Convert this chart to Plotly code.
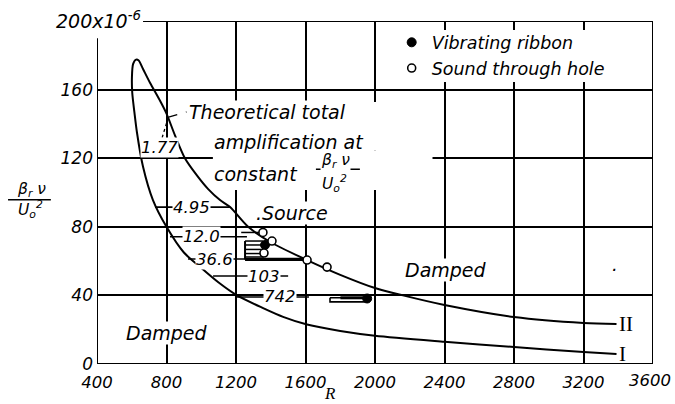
import plotly.graph_objects as go

# ---------------- data ----------------
# neutral-stability curve, branch I (lower) and branch II (upper), both from the nose
branch_I_R = [625, 608, 601, 603, 615, 630, 665, 722, 800, 900, 993, 1100, 1206, 1356, 1471, 1609, 1800, 2000, 2400, 2800, 3200, 3390]
branch_I_y = [177.5, 175, 167, 158, 147, 135, 115, 95.6, 80, 65, 56.6, 47.5, 40, 32.6, 27.5, 23, 19.3, 16.5, 13, 9.9, 7, 5.8]
branch_II_R = [625, 640, 665, 705, 760, 800, 850, 906, 975, 1040, 1108, 1166, 1270, 1400, 1609, 1800, 2000, 2161, 2400, 2800, 3200, 3390]
branch_II_y = [177.5, 177, 172, 164, 154, 146, 133, 120, 110, 102, 95.6, 91.5, 80, 71, 60.6, 52, 44.3, 40, 34.4, 27.4, 23.9, 23.3]

# lines of constant theoretical total amplification
amp_labels = ["1.77", "4.95", "12.0", "36.6", "103", "742"]
amp_y = [125, 91.5, 74.2, 61.2, 51.3, 39.1]
amp_R0 = [659, 734, 820, 924, 1068, 1206]
amp_R1 = [832, 1166, 1263, 1586, 1500, 1620]
amp_label_R = [760, 941, 1004, 1079, 1360, 1453]
amp_label_y = [126.5, 91.5, 74.2, 61.2, 51.3, 39.1]

# measured points
ribbon_R = [1367, 1955]
ribbon_y = [69.4, 38.2]
hole_R = [1355, 1407, 1361, 1609, 1724]
hole_y = [76.7, 71.7, 64.7, 60.6, 56.5]

# horizontal range bars of the measurements
bar_y = [76.7, 71.7, 69.4, 66.8, 64.4, 62.4]
bar_R0 = [1230, 1252, 1252, 1252, 1252, 1252]
bar_R1 = [1335, 1355, 1360, 1360, 1360, 1360]
thick_bar_y = [61.0]
thick_bar_R0 = [1252]
thick_bar_R1 = [1600]
ribbon_bar_R = [1741, 1955]
ribbon_bar_y = [38.6, 36.2]

x_ticks = [400, 800, 1200, 1600, 2000, 2400, 2800, 3200, 3600]
x_ticktext = ["400", "800", "1200", "1600", "2000", "2400", "2800", "3200", ""]
y_ticks = [0, 40, 80, 120, 160]

# ---------------- figure ----------------
FONT = "DejaVu Sans"
BLACK = "black"

fig = go.Figure()

# neutral curve (one continuous line through the nose)
curve_R = branch_I_R[::-1] + branch_II_R[1:]
curve_y = branch_I_y[::-1] + branch_II_y[1:]
fig.add_trace(go.Scatter(x=curve_R, y=curve_y, mode="lines", line=dict(color=BLACK, width=2, shape="spline", smoothing=0.8),
                         showlegend=False, hoverinfo="skip"))

# constant amplification lines
for r0, r1, yy in zip(amp_R0, amp_R1, amp_y):
    fig.add_trace(go.Scatter(x=[r0, r1], y=[yy, yy], mode="lines", line=dict(color=BLACK, width=1.6),
                             showlegend=False, hoverinfo="skip"))

# range bars
for r0, r1, yy in zip(bar_R0, bar_R1, bar_y):
    fig.add_trace(go.Scatter(x=[r0, r1], y=[yy, yy], mode="lines", line=dict(color=BLACK, width=1.5),
                             showlegend=False, hoverinfo="skip"))
fig.add_trace(go.Scatter(x=[bar_R0[1], bar_R0[1]], y=[thick_bar_y[0], bar_y[1]], mode="lines",
                         line=dict(color=BLACK, width=2), showlegend=False, hoverinfo="skip"))
for r0, r1, yy in zip(thick_bar_R0, thick_bar_R1, thick_bar_y):
    fig.add_trace(go.Scatter(x=[r0, r1], y=[yy, yy], mode="lines", line=dict(color=BLACK, width=3.2),
                             showlegend=False, hoverinfo="skip"))
# ribbon range bar (outlined)
fig.add_trace(go.Scatter(x=[ribbon_bar_R[0], ribbon_bar_R[1], ribbon_bar_R[1], ribbon_bar_R[0], ribbon_bar_R[0]],
                         y=[ribbon_bar_y[0], ribbon_bar_y[0], ribbon_bar_y[1], ribbon_bar_y[1], ribbon_bar_y[0]],
                         mode="lines", line=dict(color=BLACK, width=1.6), showlegend=False, hoverinfo="skip"))
fig.add_trace(go.Scatter(x=[ribbon_bar_R[0] + 60, ribbon_bar_R[1]], y=[ribbon_bar_y[0], ribbon_bar_y[0]],
                         mode="lines", line=dict(color=BLACK, width=3), showlegend=False, hoverinfo="skip"))

# measured points
fig.add_trace(go.Scatter(x=ribbon_R, y=ribbon_y, mode="markers", name="Vibrating ribbon",
                         marker=dict(symbol="circle", size=9, color=BLACK, line=dict(color=BLACK, width=1))))
fig.add_trace(go.Scatter(x=hole_R, y=hole_y, mode="markers", name="Sound through hole",
                         marker=dict(symbol="circle", size=8, color="white", line=dict(color=BLACK, width=1.6))))

# ---------------- annotations ----------------
ann = []
def txt(x, y, text, size=17, xanchor="center", xref="x", yref="y", bg="white", family=FONT, style="italic", yanchor="middle"):
    ann.append(dict(x=x, y=y, xref=xref, yref=yref, text=text, showarrow=False, xanchor=xanchor, yanchor=yanchor,
                    font=dict(family=family, size=size, color=BLACK, style=style), bgcolor=bg, borderpad=0))

for lab, rx, yy in zip(amp_labels, amp_label_R, amp_label_y):
    txt(rx, yy, lab, size=16.5)

txt(925, 146.9, "Theoretical total", size=19, xanchor="left")
txt(1068, 129.4, "amplification at", size=19, xanchor="left")
txt(1068, 110.8, "constant", size=19, xanchor="left")
txt(1775, 118.6, "β<sub>r</sub> ν", size=15.5)
txt(1765, 105.0, "U<sub>o</sub><sup>2</sup>", size=15.5)
txt(1522, 88.0, ".Source", size=19)
txt(803, 18.0, "Damped", size=19)
txt(2408, 54.8, "Damped", size=19)
txt(3400, 23.3, "II", size=21, xanchor="left", family="Liberation Serif", style="normal", bg="rgba(0,0,0,0)")
txt(3400, 5.8, "I", size=21, xanchor="left", family="Liberation Serif", style="normal", bg="rgba(0,0,0,0)")
txt(3376, 55, "·", size=18, bg="rgba(0,0,0,0)")

# axis texts
txt(0.081, 1.003, "200x10<sup>-6</sup>", size=19, xanchor="right", xref="paper", yref="paper", bg="rgba(0,0,0,0)")
txt(1.034, -0.047, "3600", size=16.5, xanchor="right", xref="paper", yref="paper", bg="rgba(0,0,0,0)")
txt(-0.118, 0.506, "β<sub>r</sub> ν", size=15.5, xref="paper", yref="paper", bg="rgba(0,0,0,0)")
txt(-0.12, 0.449, "U<sub>o</sub><sup>2</sup>", size=15.5, xref="paper", yref="paper", bg="rgba(0,0,0,0)")
txt(0.419, -0.087, "R", size=17, xref="paper", yref="paper", bg="rgba(0,0,0,0)", family="Liberation Serif")

shapes = []
def seg(x0, y0, x1, y1, xref="x", yref="y", width=2, dash="solid"):
    shapes.append(dict(type="line", x0=x0, y0=y0, x1=x1, y1=y1, xref=xref, yref=yref,
                       line=dict(color=BLACK, width=width, dash=dash), layer="above"))

def mask(x0, y0, x1, y1):
    shapes.append(dict(type="rect", x0=x0, y0=y0, x1=x1, y1=y1, xref="x", yref="y",
                       fillcolor="white", line=dict(width=0), layer="between"))

# white areas (grid interrupted behind the note and the legend)
mask(866, 141.1, 2354, 152.8)
mask(1050, 124.4, 2354, 141.1)
mask(1067, 101.5, 2331, 124.4)
mask(2201, 164.4, 3582, 194.8)

# borders
seg(665, 200, 3600, 200, width=2)
seg(3600, 0, 3600, 200, width=2)
seg(400, 0, 400, 190, width=2)
seg(400, 0, 3600, 0, width=2)
# fraction bars
seg(-0.16, 0.479, -0.083, 0.479, xref="paper", yref="paper", width=1.6)
seg(1660, 113.6, 1913, 113.6, width=1.6)
# leader from 1.77 to the note
seg(775, 132, 805, 142, width=1.3, dash="dot")
seg(812, 144, 915, 147, width=1.3, dash="dash")

fig.update_layout(
    width=675, height=404,
    margin=dict(l=97, r=22, t=21, b=40),
    paper_bgcolor="white", plot_bgcolor="white",
    annotations=ann, shapes=shapes,
    showlegend=True,
    legend=dict(x=0.53, y=0.99, xanchor="left", yanchor="top", bgcolor="rgba(0,0,0,0)", borderwidth=0,
                font=dict(family=FONT, size=17.5, color=BLACK, style="italic"), tracegroupgap=0,
                itemwidth=30),
    xaxis=dict(range=[400, 3600], tickvals=x_ticks, ticktext=x_ticktext,
               showgrid=True, gridcolor=BLACK, gridwidth=1.6, zeroline=False, showline=False, ticks="",
               tickfont=dict(family=FONT, size=16.5, color=BLACK, style="italic"), ticklabelstandoff=6),
    yaxis=dict(range=[0, 200], tickvals=y_ticks, ticktext=[str(v) for v in y_ticks],
               showgrid=True, gridcolor=BLACK, gridwidth=1.6, zeroline=False, showline=False, ticks="",
               tickfont=dict(family=FONT, size=17, color=BLACK, style="italic"), ticklabelstandoff=3),
)

fig.write_html("out.html", config={"displayModeBar": False},
               post_script="document.body.style.margin='0';document.body.style.overflow='hidden';")
